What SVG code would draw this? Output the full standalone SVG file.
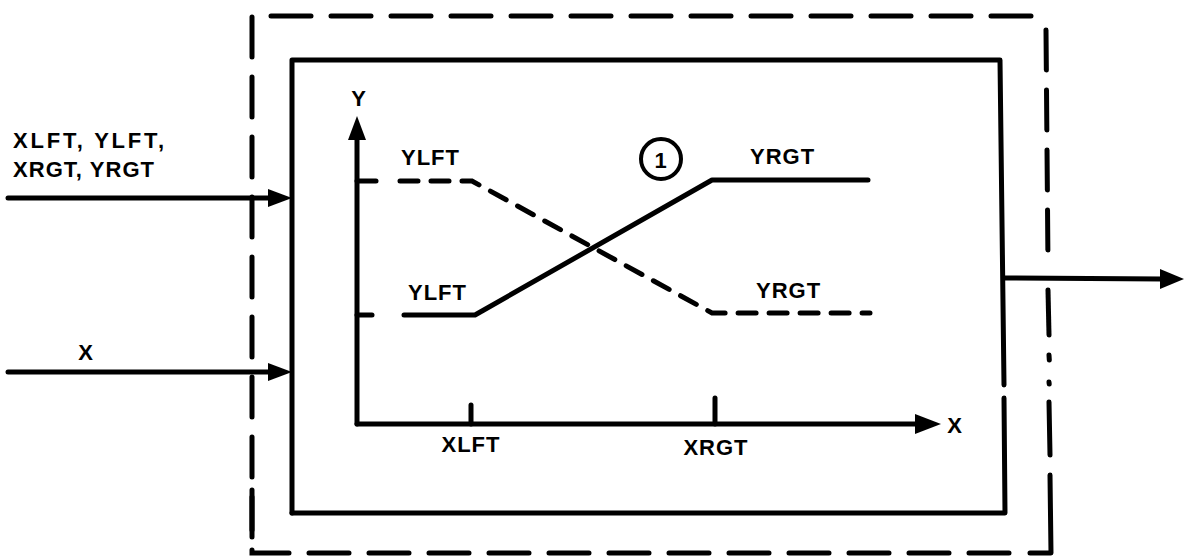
<svg xmlns="http://www.w3.org/2000/svg" width="1192" height="558" viewBox="0 0 1192 558">
<style>
.t{font-family:"Liberation Sans",Arial,sans-serif;font-weight:bold;font-size:22px;letter-spacing:1px;fill:#000}
.s{fill:none;stroke:#000;stroke-width:5;stroke-linecap:round;stroke-linejoin:round}
.d{fill:none;stroke:#000;stroke-width:5;stroke-linecap:round;stroke-dasharray:40 20}
.cd{fill:none;stroke:#000;stroke-width:5;stroke-linecap:round;stroke-dasharray:18 13}
.ah{fill:#000}
</style>
<rect width="1192" height="558" fill="#fff"/>
<g id="outer-boundary">
<path class="d" d="M252,537 L252,16 L1046,16"/>
<path class="d" d="M1046,30 L1048,265"/>
<path class="s" d="M1048,290 L1049,335"/>
<path class="s" d="M1049,355 L1049.3,360"/>
<path class="s" d="M1049,382 L1049.2,384"/>
<path class="s" d="M1049,402 L1050,455"/>
<path class="s" d="M1050,475 L1051,553 L1030,553"/>
<path class="d" d="M252,490 L252,553 L1010,553"/>
</g>
<g id="function-block">
<path class="s" d="M292,513 L292,60 L1000,60 L1004,385"/>
<path class="s" d="M1004,398 L1005,513 L292,513"/>
</g>
<g id="graph">
<path class="s" d="M357,424 L357,138"/>
<path class="ah" d="M348,140 L357,116 L366,140 Z"/>
<path class="s" d="M357,424 L915,424"/>
<path class="ah" d="M915,414 L941,424 L915,434 Z"/>
<path class="s" d="M471,405 L471,424"/>
<path class="s" d="M715,398 L715,424"/>
<path class="s" d="M357,181 L376,181"/>
<path class="s" d="M357,315 L372,315"/>
<path class="cd" d="M400,181 L472,181 L712,313 L870,313"/>
<path class="s" d="M404,315 L475,315 L712,180 L868,180"/>
<circle cx="661" cy="159" r="20" fill="none" stroke="#000" stroke-width="4"/>
<text class="t" x="661" y="168" text-anchor="middle" letter-spacing="0" font-size="25">1</text>
<text class="t" x="359" y="106" text-anchor="middle">Y</text>
<text class="t" x="955" y="433" text-anchor="middle">X</text>
<text class="t" x="401" y="165">YLFT</text>
<text class="t" x="408" y="300">YLFT</text>
<text class="t" x="750" y="164">YRGT</text>
<text class="t" x="756" y="298">YRGT</text>
<text class="t" x="471" y="452" text-anchor="middle">XLFT</text>
<text class="t" x="716" y="455" text-anchor="middle">XRGT</text>
</g>
<g id="connectors">
<path class="s" d="M8,198 L270,198"/>
<path class="ah" d="M268,189 L292,198 L268,207 Z"/>
<path class="s" d="M8,372 L270,372"/>
<path class="ah" d="M268,363 L292,372 L268,381 Z"/>
<path class="s" d="M1004,278 L1162,279"/>
<path class="ah" d="M1160,269 L1184,279 L1160,289 Z"/>
</g>
<g id="labels">
<text class="t" x="13" y="148" font-size="23" textLength="152" lengthAdjust="spacing">XLFT, YLFT,</text>
<text class="t" x="13" y="177" font-size="23" textLength="142" lengthAdjust="spacing">XRGT, YRGT</text>
<text class="t" x="86" y="360" text-anchor="middle">X</text>
</g>
</svg>
